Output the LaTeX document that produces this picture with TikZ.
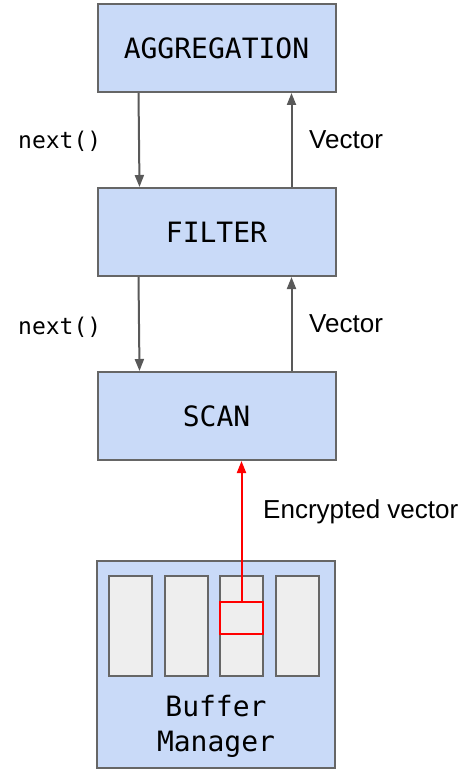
\documentclass[tikz,border=0pt]{standalone}
\usepackage{fontspec}
\setmainfont{Liberation Sans}
\setmonofont{DejaVu Sans Mono}
\usetikzlibrary{arrows.meta,positioning}
\definecolor{boxblue}{HTML}{C9DAF8}
\definecolor{edgegray}{HTML}{666666}
\definecolor{arrowgray}{HTML}{595959}
\definecolor{slotgray}{HTML}{EEEEEE}
\tikzset{
  opbox/.style={draw=edgegray, line width=2pt, fill=boxblue, minimum width=238pt,
    minimum height=88pt, inner sep=0pt, font=\fontsize{28}{32}\selectfont\ttfamily},
  slot/.style={draw=edgegray, line width=2pt, fill=slotgray, minimum width=43pt,
    minimum height=100pt, inner sep=0pt},
  flow/.style={draw=arrowgray, line width=2pt, -{Triangle[width=9pt,length=12pt]}},
  callabel/.style={font=\fontsize{23}{26}\selectfont\ttfamily, anchor=west, inner sep=0pt},
  datalabel/.style={font=\fontsize{26}{29}\selectfont, anchor=west, inner sep=0pt},
}
\begin{document}
\begin{tikzpicture}[x=1pt,y=-1pt]
  \useasboundingbox (0,0) rectangle (467,770);

  % operator pipeline
  \node[opbox] (agg)  at (216.5,48)  {AGGREGATION};
  \node[opbox] (filt) at (216.5,232) {FILTER};
  \node[opbox] (scan) at (216.5,416) {SCAN};

  % buffer manager with its pages
  \node[draw=edgegray, line width=2pt, fill=boxblue, minimum width=238pt,
    minimum height=207pt, inner sep=0pt] (buf) at (216,664.5) {};
  \node[slot] (s1) at (130,626) {};
  \node[slot] (s2) at (186,626) {};
  \node[slot] (s3) at (241.5,626) {};
  \node[slot] (s4) at (297.5,626) {};
  \node[draw=red, line width=2pt, minimum width=43pt, minimum height=32pt,
    inner sep=0pt] (page) at (241.5,618) {};
  \node[font=\fontsize{28}{35}\selectfont\ttfamily, align=center] (buflabel)
    at (216,726) {Buffer\\Manager};

  % next() calls go down, vectors come back up
  \draw[flow] ([xshift=42pt]agg.south west) -- ([xshift=43pt]filt.north west);
  \draw[flow] ([xshift=195pt]filt.north west) -- ([xshift=195pt]agg.south west);
  \draw[flow] ([xshift=42pt]filt.south west) -- ([xshift=43pt]scan.north west);
  \draw[flow] ([xshift=195pt]scan.north west) -- ([xshift=195pt]filt.south west);

  \node[callabel] (n1) at (18,141) {next()};
  \node[callabel] (n2) at (18,327) {next()};
  \node[datalabel] (v1) at (309,140) {Vector};
  \node[datalabel] (v2) at (309,324) {Vector};

  % encrypted page handed to the scan
  \draw[draw=red, line width=2pt, -{Triangle[width=9pt,length=12pt]}]
    (page.north) -- (page.north |- scan.south);
  \node[datalabel] (enc) at (263,512) {Encrypted vector};
\end{tikzpicture}
\end{document}
